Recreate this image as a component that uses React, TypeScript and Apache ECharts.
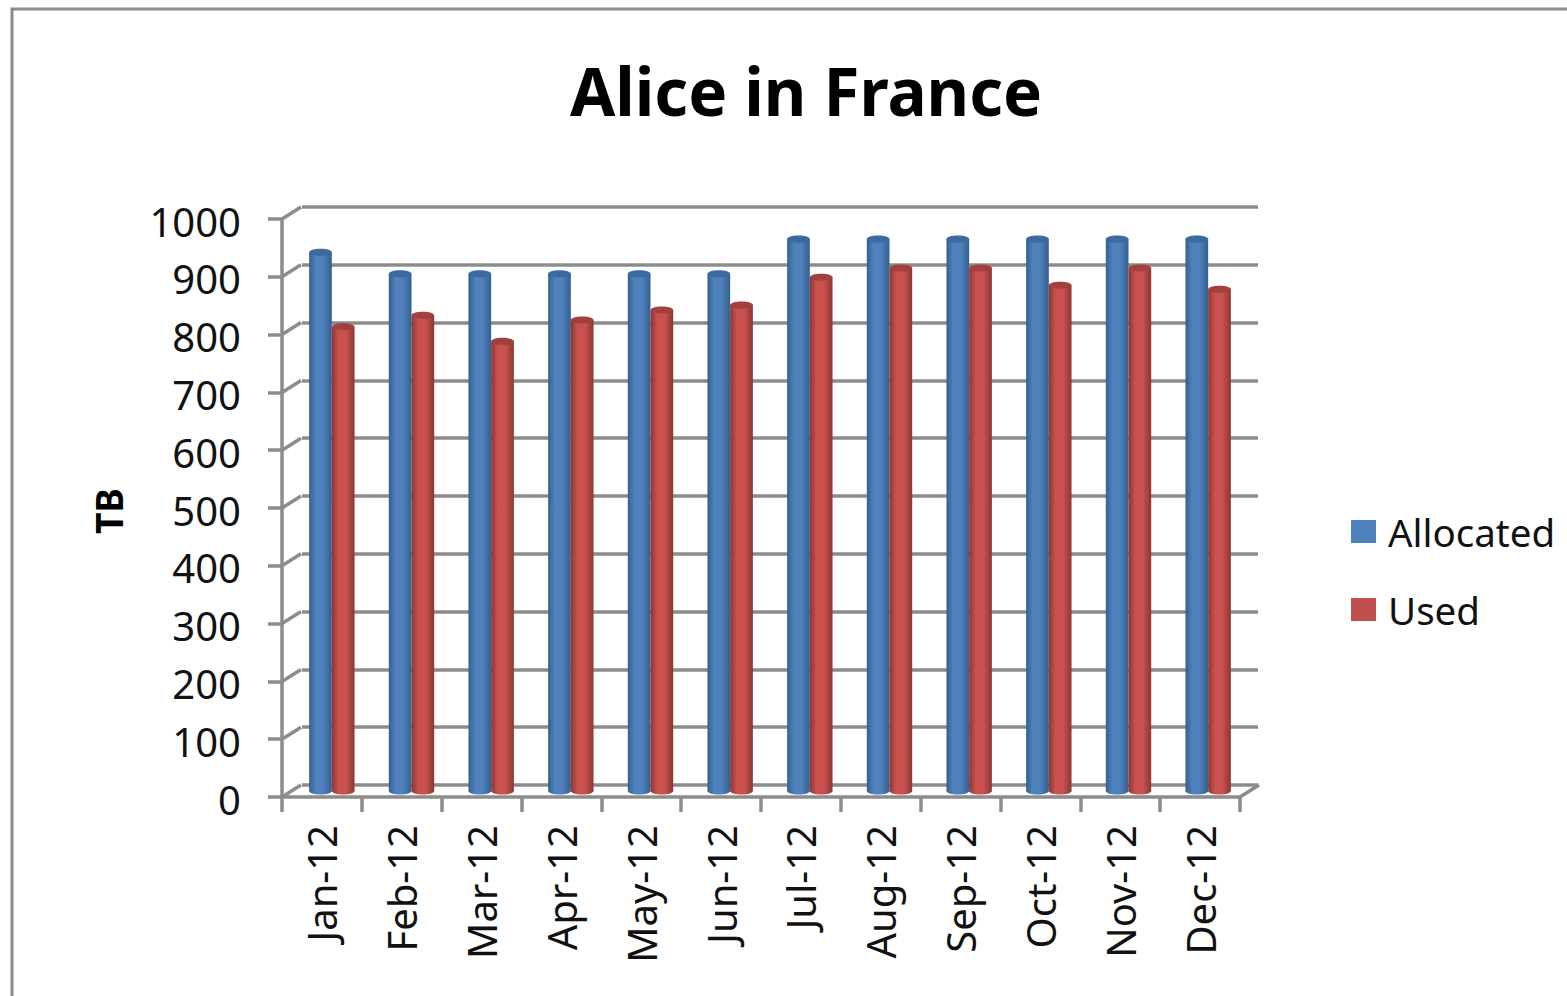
import React, { useEffect, useRef } from "react";
import * as echarts from "echarts";

const months = ["Jan-12","Feb-12","Mar-12","Apr-12","May-12","Jun-12","Jul-12","Aug-12","Sep-12","Oct-12","Nov-12","Dec-12"];
const allocated = [932,895,895,895,895,895,955,955,955,955,955,955];
const used = [803,823,778,815,832,841,889,905,905,875,905,868];
const yTicks = [0,100,200,300,400,500,600,700,800,900,1000];

const GRID = "#8c8c8c";
const LINE_W = 3.5;
const FONT = "'Noto Sans', sans-serif";
const DEPTH_X = 19;
const DEPTH_Y = -12;

function cylinder(edge: string, mid: string, cap: string, offset: number) {
  return (_p: any, api: any) => {
    const i = api.value(0);
    const top = api.coord([i, api.value(1)]);
    const base = api.coord([i, 0]);
    const bandW = api.size([1, 0])[0];
    const w = bandW * 0.285;
    const x = top[0] + offset * w;
    const fill = new echarts.graphic.LinearGradient(0, 0, 1, 0, [
      { offset: 0, color: edge },
      { offset: 0.3, color: mid },
      { offset: 0.62, color: mid },
      { offset: 1, color: edge },
    ]);
    const rx = w / 2;
    const ry = 3.5;
    return {
      type: "group",
      children: [
        { type: "ellipse", shape: { cx: x + rx, cy: base[1], rx, ry }, style: { fill } },
        { type: "rect", shape: { x, y: top[1], width: w, height: base[1] - top[1] }, style: { fill } },
        { type: "ellipse", shape: { cx: x + rx, cy: top[1], rx, ry }, style: { fill: cap } },
      ],
    };
  };
}

export default function App() {
  const ref = useRef<HTMLDivElement>(null);
  useEffect(() => {
    const chart = echarts.init(ref.current!, undefined, { renderer: "svg" });
    const hiddenX = (gridIndex: number) => ({ type: "category" as const, gridIndex, data: months, show: false });
    chart.setOption({
      animation: false,
      backgroundColor: "#ffffff",
      title: {
        text: "Alice in France",
        left: 801,
        top: 52,
        textAlign: "center",
        textStyle: { fontFamily: FONT, fontWeight: "bold", fontSize: 65.5, color: "#000" },
      },
      legend: {
        orient: "vertical",
        left: 1346,
        top: 507,
        icon: "rect",
        itemWidth: 25,
        itemHeight: 23,
        itemGap: 39,
        data: ["Allocated", "Used"],
        textStyle: { fontFamily: FONT, fontSize: 38.5, color: "#111", padding: [0, 0, 0, 7] },
      },
      grid: [
        { left: 302, top: 207, width: 956, height: 578 },
        { left: 282, top: 219, width: 958, height: 578 },
        { left: 292, top: 213, width: 956, height: 578 },
        { left: 282, top: 221, width: 958, height: 578 },
      ],
      xAxis: [
        hiddenX(0),
        {
          type: "category",
          gridIndex: 1,
          data: months,
          axisLine: { show: true, lineStyle: { color: GRID, width: LINE_W } },
          axisTick: { show: true, alignWithLabel: false, length: 15, lineStyle: { color: GRID, width: LINE_W }, interval: 0 },
          axisLabel: { rotate: 90, margin: 28, interval: 0, fontFamily: FONT, fontSize: 40, color: "#111" },
        },
        hiddenX(2),
        hiddenX(3),
      ],
      yAxis: [
        {
          type: "value", gridIndex: 0, min: 0, max: 1000, interval: 100,
          axisLine: { show: false }, axisTick: { show: false }, axisLabel: { show: false },
          splitLine: { lineStyle: { color: GRID, width: LINE_W } },
        },
        {
          type: "value", gridIndex: 1, min: 0, max: 1000, interval: 100,
          name: "TB",
          nameLocation: "middle",
          nameGap: 155,
          nameRotate: 90,
          nameTextStyle: { fontFamily: FONT, fontWeight: "bold", fontSize: 37, color: "#000", padding: [0, 6, 0, 0] },
          axisLine: { show: true, lineStyle: { color: GRID, width: LINE_W } },
          axisTick: { show: true, length: 14, lineStyle: { color: GRID, width: LINE_W } },
          axisLabel: { show: false },
          splitLine: { show: false },
        },
        { type: "value", gridIndex: 2, min: 0, max: 1000, interval: 100, show: false, splitLine: { show: false } },
        {
          type: "value", gridIndex: 3, min: 0, max: 1000, interval: 100,
          axisLine: { show: false }, axisTick: { show: false }, splitLine: { show: false },
          axisLabel: { margin: 41, fontFamily: FONT, fontSize: 40, color: "#111", formatter: (v: number) => String(v) },
        },
      ],
      series: [
        {
          type: "custom",
          name: "walls",
          xAxisIndex: 1,
          yAxisIndex: 1,
          silent: true,
          z: 1,
          data: yTicks.map((t) => [0, t]),
          encode: { x: 0, y: 1 },
          renderItem: (_p: any, api: any) => {
            const v = api.value(1);
            const c = api.coord([0, v]);
            const left = c[0] - api.size([1, 0])[0] / 2;
            const line = (x: number) => ({
              type: "line",
              shape: { x1: x, y1: c[1], x2: x + DEPTH_X, y2: c[1] + DEPTH_Y },
              style: { stroke: GRID, lineWidth: LINE_W },
            });
            const right = left + api.size([1, 0])[0] * months.length;
            return { type: "group", children: v === 0 ? [line(left), line(right)] : [line(left)] };
          },
        },
        {
          type: "custom",
          name: "Allocated",
          xAxisIndex: 2,
          yAxisIndex: 2,
          z: 5,
          clip: false,
          itemStyle: { color: "#4f81bd" },
          data: allocated.map((v, i) => [i, v]),
          encode: { x: 0, y: 1 },
          renderItem: cylinder("#34608f", "#4f81bd", "#3c6a9f", -1),
        },
        {
          type: "custom",
          name: "Used",
          xAxisIndex: 2,
          yAxisIndex: 2,
          z: 5,
          clip: false,
          itemStyle: { color: "#c0504d" },
          data: used.map((v, i) => [i, v]),
          encode: { x: 0, y: 1 },
          renderItem: cylinder("#8c3633", "#c9524f", "#a2403d", 0),
        },
      ],
      graphic: [
        {
          type: "rect",
          z: -1,
          shape: { x: 12, y: 9, width: 1700, height: 1200 },
          style: { fill: "none", stroke: GRID, lineWidth: 3 },
        },
      ],
    });
    return () => chart.dispose();
  }, []);
  return <div ref={ref} style={{ position: "absolute", left: 0, top: 0, width: 1567, height: 996 }} />;
}
